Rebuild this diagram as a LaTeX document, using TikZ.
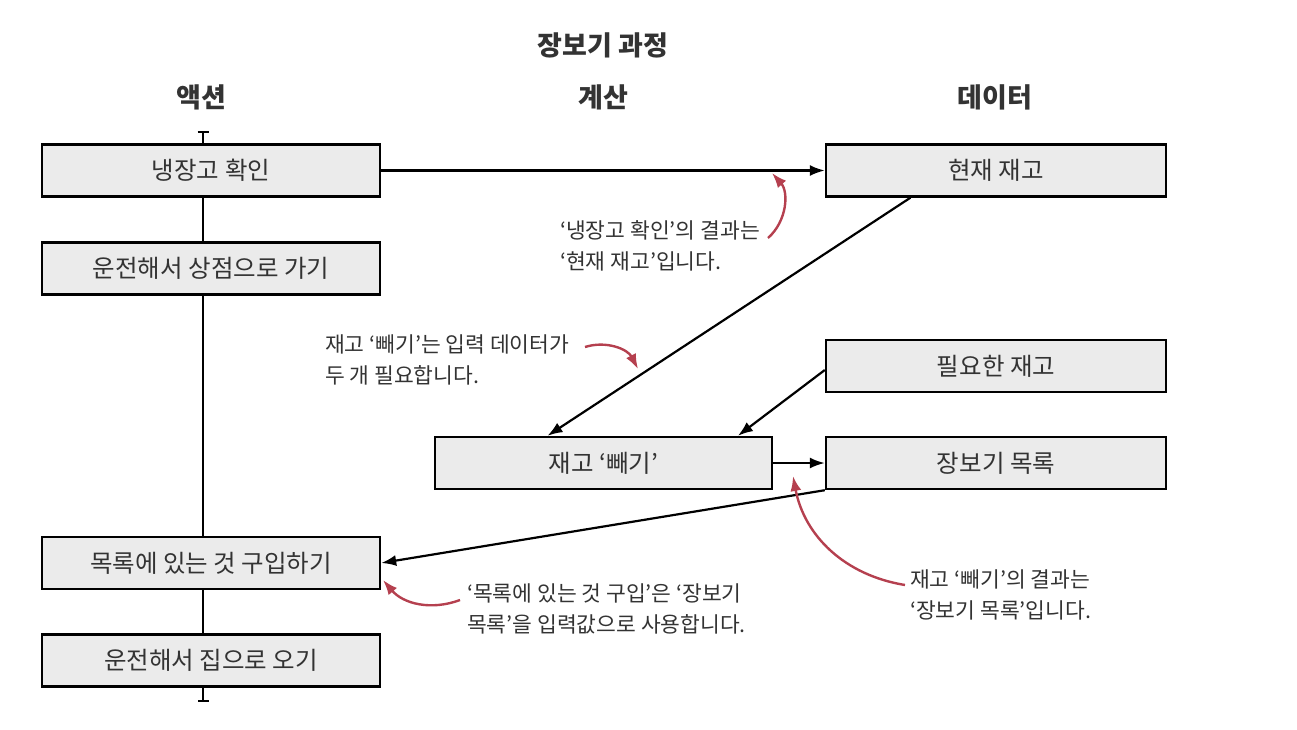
\documentclass[tikz,border=0pt]{standalone}
\usepackage{fontspec}
\setmainfont{Noto Sans CJK KR}
\usetikzlibrary{arrows.meta,calc}
\definecolor{boxgray}{HTML}{EBEBEB}
\definecolor{textgray}{HTML}{333333}
\definecolor{notered}{HTML}{B5404F}

\begin{document}
\begin{tikzpicture}[x=1pt, y=-1pt,
    box/.style={draw, line width=2.4pt, fill=boxgray, minimum width=338pt, minimum height=52pt, inner sep=0pt, text=textgray, font=\fontsize{24.5}{24.5}\selectfont},
    head/.style={text=textgray, font=\fontsize{27}{27}\selectfont\bfseries},
    note/.style={anchor=north west, align=left, inner sep=0pt, text=textgray, font=\fontsize{21.5}{31}\selectfont},
    flow/.style={line width=2.2pt, -{Latex[length=15pt, width=11pt]}},
    remark/.style={draw=notered, line width=2.4pt, -{Latex[length=15pt, width=11pt]}}]
    \useasboundingbox (0,0) rectangle (1297,729);

    % 제목과 열 이름
    \node[head](title)at(603,45){장보기 과정};
    \node[head](actions)at(201,97){액션};
    \node[head](calcs)at(603,97){계산};
    \node[head](data)at(995,97){데이터};

    % 액션 타임라인
    \coordinate(start)at(203,131);
    \coordinate(end)at(203,702);
    \path[draw, line width=2.2pt, {Bar[width=11pt]}-{Bar[width=11pt]}](start)to(end);

    % 액션
    \node[box](fridge)at(211,170.5){냉장고 확인};
    \node[box](drive)at(211,268.5){운전해서 상점으로 가기};
    \node[box](buy)at(211,563){목록에 있는 것 구입하기};
    \node[box](home)at(211,660.5){운전해서 집으로 오기};

    % 계산
    \node[box, minimum width=337pt](sub)at(603.5,463){재고 ‘빼기’};

    % 데이터
    \node[box, minimum width=340pt](stock)at(996,170.5){현재 재고};
    \node[box, minimum width=340pt](need)at(996,366){필요한 재고};
    \node[box, minimum width=340pt](list)at(996,463){장보기 목록};

    % 데이터 흐름
    \path[draw, flow](fridge.east)to(stock.west);
    \path[draw, flow]($(stock.south west)!0.25!(stock.south east)$)to($(sub.north west)!0.335!(sub.north east)$);
    \path[draw, flow]($(need.west)+(0,4)$)to($(sub.north west)!0.896!(sub.north east)$);
    \path[draw, flow](sub.east)to(list.west);
    \path[draw, flow](list.south west)to(buy.east);

    % 설명
    \node[note](note1)at(560,220){‘냉장고 확인’의 결과는\\‘현재 재고’입니다.};
    \node[note](note2)at(325,335){재고 ‘빼기’는 입력 데이터가\\두 개 필요합니다.};
    \node[note](note3)at(910,570){재고 ‘빼기’의 결과는\\‘장보기 목록’입니다.};
    \node[note](note4)at(467,584){‘목록에 있는 것 구입’은 ‘장보기\\목록’을 입력값으로 사용합니다.};

    \coordinate(r1a)at(768,238);
    \coordinate(r1b)at(772,173);
    \coordinate(r2a)at(585,347);
    \coordinate(r2b)at(638,369);
    \coordinate(r3a)at(905,585);
    \coordinate(r3b)at(793,476);
    \coordinate(r4a)at(460,600);
    \coordinate(r4b)at(383,580);
    \path[remark](r1a)to[bend right=45](r1b);
    \path[remark](r2a)to[bend left=40](r2b);
    \path[remark](r3a)to[bend left=35](r3b);
    \path[remark](r4a)to[bend left=35](r4b);
\end{tikzpicture}
\end{document}
